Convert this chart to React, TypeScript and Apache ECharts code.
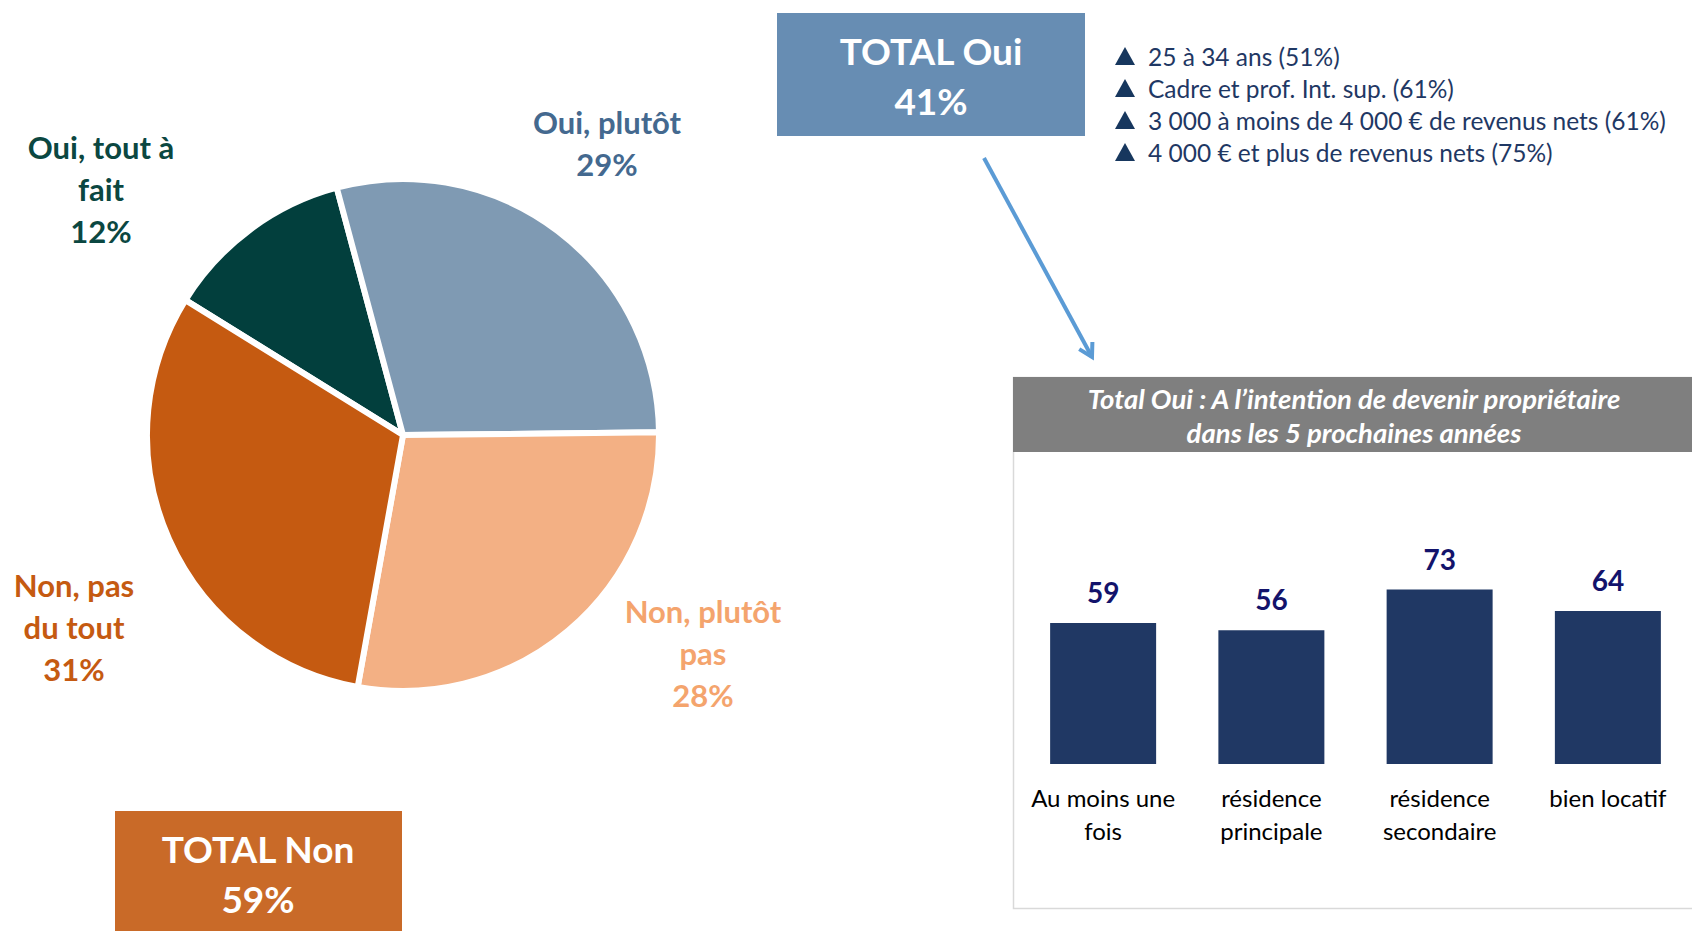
import React, { useEffect, useRef } from "react";
import * as echarts from "echarts";

const pieNames = ["Oui, tout à\nfait", "Oui, plutôt", "Non, plutôt\npas", "Non, pas\ndu tout"];
const pieValues = [12, 29, 28, 31];
const pieColors = ["#023f3d", "#7f9ab3", "#f3b084", "#c55a11"];
const pieLabelColors = ["#0b4741", "#44698f", "#f4a46d", "#c55a11"];

const barCategories = ["Au moins une\nfois", "résidence\nprincipale", "résidence\nsecondaire", "bien locatif"];
const barValues = [59, 56, 73, 64];

const totalOui = 41;
const totalNon = 59;
const highlights = [
  "25 à 34 ans (51%)",
  "Cadre et prof. Int. sup. (61%)",
  "3 000 à moins de 4 000 € de revenus nets (61%)",
  "4 000 € et plus de revenus nets (75%)",
];
const panelTitle = "Total Oui : A l’intention de devenir propriétaire\ndans les 5 prochaines années";

const FONT = "Lato, 'Open Sans', sans-serif";

export default function App() {
  const ref = useRef<HTMLDivElement>(null);
  useEffect(() => {
    if (!ref.current) return;
    const chart = echarts.init(ref.current, null, { renderer: "svg" });

    const labelPos = [
      [101, 189],
      [607, 143],
      [703, 653],
      [74, 627],
    ];

    const graphics: any[] = [];
    // pie labels
    pieNames.forEach((n, i) => {
      graphics.push({
        type: "text",
        x: labelPos[i][0],
        y: labelPos[i][1],
        style: {
          text: `${n}\n${pieValues[i]}%`,
          fill: pieLabelColors[i],
          font: `bold 31px ${FONT}`,
          lineHeight: 42,
          align: "center",
          verticalAlign: "middle",
        },
      });
    });

    // TOTAL Non box
    graphics.push({
      type: "rect",
      shape: { x: 115, y: 811, width: 287, height: 130 },
      style: { fill: "#c96a28" },
    });
    graphics.push({
      type: "text",
      x: 258,
      y: 873,
      style: {
        text: `TOTAL Non\n${totalNon}%`,
        fill: "#ffffff",
        font: `bold 37px ${FONT}`,
        lineHeight: 50,
        align: "center",
        verticalAlign: "middle",
      },
    });

    // TOTAL Oui box
    graphics.push({
      type: "rect",
      shape: { x: 777, y: 13, width: 308, height: 123 },
      style: { fill: "#678db3" },
    });
    graphics.push({
      type: "text",
      x: 931,
      y: 75,
      style: {
        text: `TOTAL Oui\n${totalOui}%`,
        fill: "#ffffff",
        font: `bold 37px ${FONT}`,
        lineHeight: 50,
        align: "center",
        verticalAlign: "middle",
      },
    });

    // highlight list
    highlights.forEach((t, i) => {
      const y = 56 + i * 32;
      graphics.push({
        type: "polygon",
        shape: { points: [[1115, y + 9], [1125, y - 9], [1135, y + 9]] },
        style: { fill: "#17375e" },
      });
      graphics.push({
        type: "text",
        x: 1148,
        y,
        style: {
          text: t,
          fill: "#1f3864",
          font: `24.5px ${FONT}`,
          verticalAlign: "middle",
        },
      });
    });

    // arrow
    const ax1 = 984, ay1 = 158, ax2 = 1092, ay2 = 357;
    const dx = ax2 - ax1, dy = ay2 - ay1;
    const len = Math.sqrt(dx * dx + dy * dy);
    const ux = dx / len, uy = dy / len;
    const hl = 15;
    const ang = Math.PI / 6;
    const rot = (x: number, y: number, a: number) => [x * Math.cos(a) - y * Math.sin(a), x * Math.sin(a) + y * Math.cos(a)];
    const r1 = rot(-ux, -uy, ang);
    const r2 = rot(-ux, -uy, -ang);
    graphics.push({
      type: "line",
      shape: { x1: ax1, y1: ay1, x2: ax2, y2: ay2 },
      style: { stroke: "#5b9bd5", lineWidth: 4 },
    });
    graphics.push({
      type: "polyline",
      shape: { points: [[ax2 + r1[0] * hl, ay2 + r1[1] * hl], [ax2, ay2], [ax2 + r2[0] * hl, ay2 + r2[1] * hl]] },
      style: { stroke: "#5b9bd5", lineWidth: 4, fill: "none" },
    });

    // panel border and header
    graphics.push({
      type: "rect",
      shape: { x: 1013.5, y: 377.5, width: 700, height: 531 },
      style: { fill: "none", stroke: "#d9d9d9", lineWidth: 1.5 },
    });
    graphics.push({
      type: "rect",
      shape: { x: 1013, y: 377, width: 680, height: 75 },
      style: { fill: "#7f7f7f" },
    });
    graphics.push({
      type: "text",
      x: 1354,
      y: 415,
      style: {
        text: panelTitle,
        fill: "#ffffff",
        font: `italic bold 27.5px ${FONT}`,
        lineHeight: 34,
        align: "center",
        verticalAlign: "middle",
      },
    });

    chart.setOption({
      animation: false,
      backgroundColor: "#ffffff",
      grid: { left: 1019, width: 676, top: 525, bottom: 167 },
      xAxis: {
        type: "category",
        data: barCategories,
        axisLine: { show: false },
        axisTick: { show: false },
        axisLabel: {
          color: "#000000",
          fontFamily: FONT,
          fontSize: 24,
          lineHeight: 33,
          margin: 17,
          interval: 0,
        },
      },
      yAxis: {
        type: "value",
        min: 0,
        max: 100,
        show: false,
        splitLine: { show: false },
      },
      series: [
        {
          type: "pie",
          center: [403, 435],
          radius: [0, 256],
          startAngle: 148.2,
          clockwise: true,
          label: { show: false },
          labelLine: { show: false },
          itemStyle: { borderColor: "#ffffff", borderWidth: 6 },
          data: pieNames.map((n, i) => ({ name: n, value: pieValues[i], itemStyle: { color: pieColors[i] } })),
        },
        {
          type: "bar",
          data: barValues,
          barWidth: 106,
          itemStyle: { color: "#203864" },
          label: {
            show: true,
            position: "top",
            distance: 17,
            color: "#13136b",
            fontFamily: FONT,
            fontWeight: "bold",
            fontSize: 28,
          },
        },
      ],
      graphic: graphics,
    });
    return () => chart.dispose();
  }, []);
  return (
    <div
      ref={ref}
      style={{ position: "fixed", left: 0, top: 0, width: 1692, height: 931, background: "#ffffff" }}
    />
  );
}
